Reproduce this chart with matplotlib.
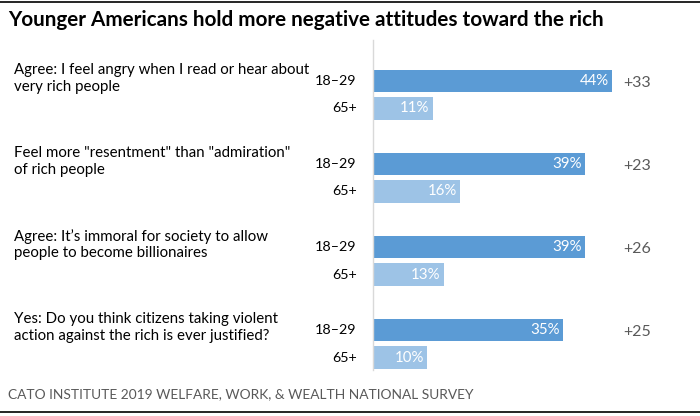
import matplotlib
matplotlib.use("Agg")
from matplotlib import pyplot as plt
from matplotlib.lines import Line2D

plt.rcParams['font.family'] = ['Lato', 'DejaVu Sans']

questions = [
    'Agree: I feel angry when I read or hear about\nvery rich people',
    'Feel more "resentment" than "admiration"\nof rich people',
    'Agree: It\u2019s immoral for society to allow\npeople to become billionaires',
    'Yes: Do you think citizens taking violent\naction against the rich is ever justified?',
]
ages = ['18\u201329', '65+']
young = [44, 39, 39, 35]
old = [11, 16, 13, 10]
diffs = ['+33', '+23', '+26', '+25']

dark = '#5b9bd5'
light = '#9dc3e6'

fig = plt.figure(figsize=(7, 4.16), dpi=100)
ax = fig.add_axes([373 / 700, 1 - 370 / 416, 327 / 700, 330 / 416])

off = 0.33
h = 0.27
for i in range(len(questions)):
    y1 = i
    y2 = i + off
    ax.barh(y1, young[i], height=h, color=dark)
    ax.barh(y2, old[i], height=h, color=light)
    ax.text(young[i] - 0.6, y1, '%d%%' % young[i], ha='right', va='center',
            color='white', fontsize=10.8)
    ax.text(old[i] - 0.6, y2, '%d%%' % old[i], ha='right', va='center',
            color='white', fontsize=10.8)
    ax.text(46, y1 + 0.02, diffs[i], ha='left', va='center',
            color='#595959', fontsize=11.5)
    ax.text(-3, y1, ages[0], ha='right', va='center', fontsize=10.3, color='black')
    ax.text(-3, y2, ages[1], ha='right', va='center', fontsize=10.3, color='black')
    ax.text(-66.1, y1 - 0.03, questions[i], ha='left', va='center',
            fontsize=10.8, color='black', linespacing=1.22)

ax.set_xlim(0, 327 / 5.43)
ax.set_ylim(3.48, -0.494)
ax.set_xticks([])
ax.set_yticks([])
for sp in ['top', 'right', 'bottom']:
    ax.spines[sp].set_visible(False)
ax.spines['left'].set_color('#d9d9d9')
ax.spines['left'].set_linewidth(1)

fig.text(8 / 700, 1 - 20 / 416, 'Younger Americans hold more negative attitudes toward the rich',
         ha='left', va='center', fontsize=14.9, fontweight='bold', color='black')
fig.text(8 / 700, 1 - 394 / 416, 'CATO INSTITUTE 2019 WELFARE, WORK, & WEALTH NATIONAL SURVEY',
         ha='left', va='center', fontsize=9.9, color='#595959')
fig.add_artist(Line2D([0, 1], [1 - 1.5 / 416, 1 - 1.5 / 416], color='black', lw=1.2))
fig.add_artist(Line2D([0, 1], [1 - 412 / 416, 1 - 412 / 416], color='black', lw=1.2))

fig.savefig('out.png', dpi=100)
